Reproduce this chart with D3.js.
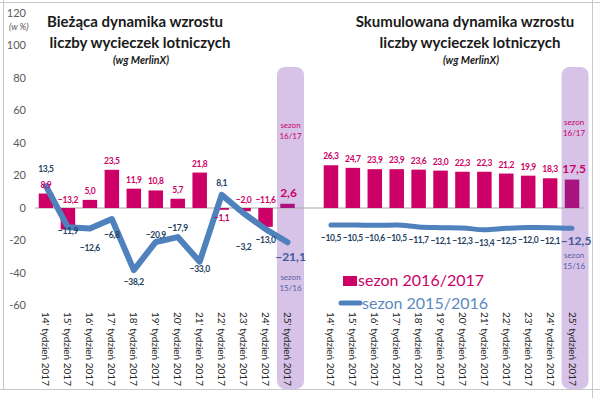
<!DOCTYPE html>
<html>
<head>
<meta charset="utf-8">
<script src="https://cdn.jsdelivr.net/npm/d3@7"></script>
<style>
body { margin: 0; background: #fff; }
svg { display: block; font-family: Lato, "Noto Sans", sans-serif; }
</style>
</head>
<body>
<script>
// dane z wykresu (MerlinX)
var weeks = ["14' tydzień 2017", "15' tydzień 2017", "16' tydzień 2017", "17' tydzień 2017",
    "18' tydzień 2017", "19' tydzień 2017", "20' tydzień 2017", "21' tydzień 2017",
    "22' tydzień 2017", "23' tydzień 2017", "24' tydzień 2017", "25' tydzień 2017"];
var curBars = [8.9, -13.2, 5.0, 23.5, 11.9, 10.8, 5.7, 21.8, -1.1, -2.0, -11.6, 2.6];
var curLine = [13.5, -11.9, -12.6, -6.8, -38.2, -20.9, -17.9, -33.0, 8.1, -3.2, -13.0, -21.1];
var cumBars = [26.3, 24.7, 23.9, 23.9, 23.6, 23.0, 22.3, 22.3, 21.2, 19.9, 18.3, 17.5];
var cumLine = [-10.5, -10.5, -10.6, -10.5, -11.7, -12.1, -12.3, -13.4, -12.5, -12.0, -12.1, -12.5];
var yTicks = [120, 100, 80, 60, 40, 20, 0, -20, -40, -60];
var legendNames = ["sezon 2016/2017", "sezon 2015/2016"];

// przesuniecia etykiet linii (recznie ustawione jak w oryginale)
var curLineDy = [-17, 4, 20, 16, 12, -7, -9, 7, -12, 34, 11, 15];

var width = 600, height = 398;
var pink = "#cc0066", pinkDark = "#a8137f", blue = "#4f81bd", navy = "#243f60", bandCol = "#d6c3e7";

var svg = d3.select("body").append("svg").attr("width", width).attr("height", height);

var y = d3.scaleLinear().domain([-60, 120]).range([305.5, 13]);
var xL = d3.scalePoint().domain(weeks).range([35, 298.5]).padding(0.5);
var xR = d3.scalePoint().domain(weeks).range([320, 583]).padding(0.5);
var barW = xL.step() * 0.66;
var last = weeks[weeks.length - 1];

// ramka
var frame = svg.append("g").attr("stroke", "#c8c8c8").attr("stroke-width", 1);
frame.append("line").attr("x1", 0).attr("x2", width).attr("y1", 2.5).attr("y2", 2.5);
frame.append("line").attr("x1", 3.5).attr("x2", 3.5).attr("y1", 0).attr("y2", 390);
frame.append("line").attr("x1", 592.5).attr("x2", 592.5).attr("y1", 0).attr("y2", height);
frame.append("line").attr("x1", 0).attr("x2", width).attr("y1", 389.5).attr("y2", 389.5);

// pasy sezonu
[xL, xR].forEach(function (x) {
    svg.append("rect")
        .attr("x", x(last) - 10.5).attr("y", 67)
        .attr("width", 27).attr("height", 322)
        .attr("rx", 8).attr("ry", 8)
        .attr("fill", bandCol);
});

// os Y
svg.append("g").selectAll("text").data(yTicks).enter().append("text")
    .attr("x", 26).attr("y", function (d) { return y(d); })
    .attr("dy", "0.35em").attr("text-anchor", "end")
    .style("font-size", "11px").style("fill", "#595959")
    .text(function (d) { return d; });
svg.append("text").attr("x", 9).attr("y", 30)
    .style("font-size", "9px").style("font-style", "italic").style("fill", "#595959")
    .text("(w %)");

// linia zera
svg.append("line").attr("x1", 35).attr("x2", 584)
    .attr("y1", y(0)).attr("y2", y(0))
    .attr("stroke", "#a6a6a6").attr("stroke-width", 1);

// tytuly
function title(cx, lines) {
    var g = svg.append("g").attr("text-anchor", "middle").style("fill", "#1a1a1a");
    g.append("text").attr("x", cx).attr("y", 27).style("font-size", "15px").style("font-weight", "bold").text(lines[0]);
    g.append("text").attr("x", cx + 5).attr("y", 48).style("font-size", "15px").style("font-weight", "bold").text(lines[1]);
    g.append("text").attr("x", cx + 6).attr("y", 64).style("font-size", "10.5px").style("font-weight", "bold").style("font-style", "italic").text(lines[2]);
}
title(135, ["Bieżąca dynamika wzrostu", "liczby  wycieczek lotniczych", "(wg MerlinX)"]);
title(465, ["Skumulowana dynamika wzrostu", "liczby  wycieczek lotniczych", "(wg MerlinX)"]);

// slupki
function bars(x, data) {
    svg.append("g").selectAll("rect").data(data).enter().append("rect")
        .attr("x", function (d, i) { return x(weeks[i]) - barW / 2; })
        .attr("y", function (d) { return d >= 0 ? y(d) : y(0); })
        .attr("width", barW)
        .attr("height", function (d) { return Math.abs(y(d) - y(0)); })
        .attr("fill", function (d, i) { return i == data.length - 1 ? pinkDark : pink; });
}
bars(xL, curBars);
bars(xR, cumBars);

// linie
var lineL = d3.line()
    .x(function (d, i) { return xL(weeks[i]); })
    .y(function (d) { return y(d); });
svg.append("path").attr("d", lineL(curLine))
    .attr("fill", "none").attr("stroke", blue).attr("stroke-width", 6)
    .attr("stroke-linejoin", "round").attr("stroke-linecap", "round");
var lineR = d3.line()
    .x(function (d, i) { return xR(weeks[i]); })
    .y(function (d) { return y(d); })
    .curve(d3.curveMonotoneX);
svg.append("path").attr("d", lineR(cumLine))
    .attr("fill", "none").attr("stroke", blue).attr("stroke-width", 5)
    .attr("stroke-linecap", "round");

// etykiety danych
function fmt(v) { return d3.format(".1f")(v).replace(".", ","); }
function isLast(i) { return i == weeks.length - 1; }
function lblSize(d, i) { return isLast(i) ? "12px" : "8.5px"; }
function lblSpacing(d, i) { return isLast(i) ? "0px" : "-0.3px"; }

svg.append("g").selectAll("text").data(curBars).enter().append("text")
    .attr("x", function (d, i) { return xL(weeks[i]) + (isLast(i) ? 1 : 0); })
    .attr("y", function (d, i) {
        if (d >= 0) return y(d) - (isLast(i) ? 11 : 9);
        return d > -1.5 ? y(0) + 10 : y(0) - 8;
    })
    .attr("dy", "0.35em").attr("text-anchor", "middle")
    .style("font-size", lblSize).style("letter-spacing", lblSpacing)
    .style("font-weight", "bold").style("fill", pink)
    .text(fmt);

svg.append("g").selectAll("text").data(curLine).enter().append("text")
    .attr("x", function (d, i) { return xL(weeks[i]) + (isLast(i) ? 3 : 0); })
    .attr("y", function (d, i) { return y(d) + curLineDy[i]; })
    .attr("dy", "0.35em").attr("text-anchor", "middle")
    .style("font-size", lblSize).style("letter-spacing", lblSpacing)
    .style("font-weight", "bold")
    .style("fill", function (d, i) { return isLast(i) ? "#44589a" : navy; })
    .text(fmt);

svg.append("g").selectAll("text").data(cumBars).enter().append("text")
    .attr("x", function (d, i) { return xR(weeks[i]) + (isLast(i) ? 2 : 0); })
    .attr("y", function (d, i) { return y(d) - (isLast(i) ? 11 : 9); })
    .attr("dy", "0.35em").attr("text-anchor", "middle")
    .style("font-size", lblSize).style("letter-spacing", lblSpacing)
    .style("font-weight", "bold").style("fill", pink)
    .text(fmt);

svg.append("g").selectAll("text").data(cumLine).enter().append("text")
    .attr("x", function (d, i) { return xR(weeks[i]) + (isLast(i) ? 4 : 0); })
    .attr("y", function (d, i) { return y(d) + (isLast(i) ? 12 : 13); })
    .attr("dy", "0.35em").attr("text-anchor", "middle")
    .style("font-size", lblSize).style("letter-spacing", lblSpacing)
    .style("font-weight", "bold")
    .style("fill", function (d, i) { return isLast(i) ? "#44589a" : navy; })
    .text(fmt);

// podpisy w pasach sezonu
function season(cx, y1, txt, col) {
    var g = svg.append("g").attr("text-anchor", "middle").style("font-size", "8px").style("fill", col);
    g.append("text").attr("x", cx).attr("y", y1).text("sezon");
    g.append("text").attr("x", cx).attr("y", y1 + 11).text(txt);
}
season(xL(last) + 3, 128, "16/17", pink);
season(xL(last) + 3, 280, "15/16", "#5a5fa5");
season(xR(last) + 2, 125, "16/17", pink);
season(xR(last) + 2, 258, "15/16", "#5a5fa5");

// os X
[xL, xR].forEach(function (x) {
    svg.append("g").selectAll("text").data(weeks).enter().append("text")
        .attr("transform", function (d) { return "translate(" + x(d) + ",312) rotate(90)"; })
        .attr("dy", "0.35em")
        .style("font-size", "10px").style("fill", "#262626")
        .text(function (d) { return d; });
});

// legenda
var leg = svg.append("g");
leg.append("rect").attr("x", 343).attr("y", 276).attr("width", 14).attr("height", 10).attr("fill", pink);
leg.append("text").attr("x", 358).attr("y", 286).style("font-size", "16px").style("fill", pink).text(legendNames[0]);
leg.append("line").attr("x1", 341).attr("x2", 360).attr("y1", 303).attr("y2", 303)
    .attr("stroke", blue).attr("stroke-width", 5).attr("stroke-linecap", "round");
leg.append("text").attr("x", 362).attr("y", 309).style("font-size", "16px").style("fill", "#5b8ac0").text(legendNames[1]);
</script>
</body>
</html>
